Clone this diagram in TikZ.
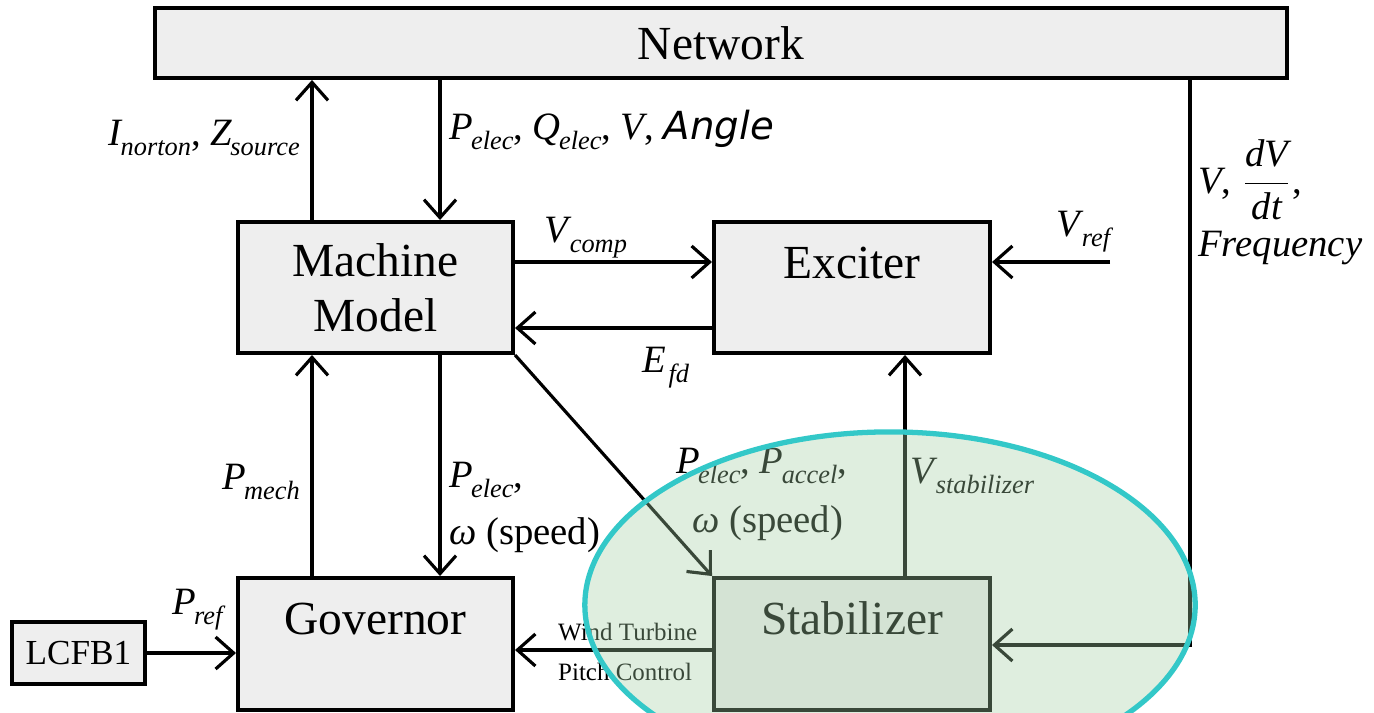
\documentclass[tikz,border=0pt]{standalone}
\usepackage{amsmath}
\usepackage{fontspec}
\setmainfont{Liberation Serif}
\newfontfamily\anglefont{DejaVu Sans}
\usepackage{xcolor}
\usetikzlibrary{arrows.meta}
\definecolor{boxfill}{RGB}{238,238,238}
\definecolor{ovalfill}{RGB}{164,207,164}
\definecolor{ovalline}{RGB}{51,200,200}
\newcommand{\sig}[2]{\textit{#1}\kern-0.5pt\raisebox{-0.55ex}{\fontsize{7.5}{8}\selectfont\textit{#2}}}

\begin{document}
\begin{tikzpicture}[x=0.01cm,y=-0.01cm,>={Straight Barb[length=1.8mm,width=3.2mm]}]%
  \tikzstyle{boxn}=[rectangle,draw,fill=boxfill,line width=1.1pt,inner sep=0,font=\fontsize{13.5}{15.6}\selectfont]
  \tikzstyle{topn}=[text height=0.35cm,text depth=0.54cm]
  \tikzstyle{lab}=[inner sep=1pt,font=\fontsize{11}{13}\selectfont]
  \tikzstyle{smalllab}=[inner sep=1pt,font=\fontsize{7.1}{9}\selectfont]
  \tikzstyle{line}=[line width=0.9pt]
  \useasboundingbox (0,0) rectangle (1374,712);
  % blocks
  \node(net)[boxn,minimum width=11.32cm,minimum height=0.7cm] at (721,43) {Network};
  \node(mach)[boxn,align=center,minimum width=2.75cm,minimum height=1.31cm] at (375.5,287.5) {Machine\\Model};
  \node(exc)[boxn,topn,minimum width=2.76cm,minimum height=1.31cm] at (852,287.5) {Exciter};
  \node(gov)[boxn,topn,minimum width=2.75cm,minimum height=1.32cm] at (375.5,644) {Governor};
  \node(stab)[boxn,topn,minimum width=2.76cm,minimum height=1.32cm] at (852,644) {Stabilizer};
  \node(lcfb)[boxn,minimum width=1.33cm,minimum height=0.62cm,font=\fontsize{10}{12}\selectfont] at (78.5,653) {LCFB1};
  % columns and rows of the connectors
  \coordinate(c1) at (312,0);
  \coordinate(c2) at (440,0);
  \coordinate(c3) at (905,0);
  \coordinate(c4) at (1190,0);
  \coordinate(r1) at (0,262);
  \coordinate(r2) at (0,328);
  \coordinate(r3) at (0,650);
  \coordinate(r4) at (0,645);
  \coordinate(vref) at (1110,262);
  % connectors
  \draw[line,->] (mach.north -| c1) -- (net.south -| c1);
  \draw[line,->] (net.south -| c2) -- (mach.north -| c2);
  \draw[line,->] (mach.east |- r1) -- (exc.west |- r1);
  \draw[line,->] (exc.west |- r2) -- (mach.east |- r2);
  \draw[line,->] (vref) -- (exc.east |- vref);
  \draw[line,->] (net.south -| c4) |- (stab.east |- r4);
  \draw[line,->] (gov.north -| c1) -- (mach.south -| c1);
  \draw[line,->] (mach.south -| c2) -- (gov.north -| c2);
  \draw[line,->] (mach.south east) -- (stab.north west);
  \draw[line,->] (stab.north -| c3) -- (exc.south -| c3);
  \draw[line,->] (stab.west |- r3) -- (gov.east |- r3);
  \draw[line,->] (lcfb.east) -- (gov.west |- lcfb.east);
  % labels
  \node(lnz)[lab,anchor=east] at (304,138) {\sig{I}{norton}, \sig{Z}{source}};
  \node(lpq)[lab,anchor=west] at (445,130) {\sig{P}{elec}, \sig{Q}{elec}, \textit{V}, {\anglefont\itshape Angle}};
  \node(lvc)[lab,anchor=west] at (540,238) {\sig{V}{comp}};
  \node(lefd)[lab,anchor=west] at (638,368) {\sig{E}{\,fd}};
  \node(lvref)[lab,anchor=west] at (1052,232) {\sig{V}{ref}};
  \node(lvdv)[lab,anchor=west] at (1194,180) {\textit{V}, $\dfrac{\textit{dV}}{\textit{dt}}$,};
  \node(lfreq)[lab,anchor=west] at (1194,248) {\textit{Frequency}};
  \node(lpm)[lab,anchor=east] at (304,482) {\sig{P}{mech}};
  \node(lpe)[lab,anchor=west] at (445,480) {\sig{P}{elec},};
  \node(lw1)[lab,anchor=west] at (445,535) {\textit{ω} (speed)};
  \node(lpa)[lab,anchor=west] at (672,466) {\sig{P}{elec}, \sig{P}{accel},};
  \node(lw2)[lab,anchor=west] at (688,523) {\textit{ω} (speed)};
  \node(lvs)[lab,anchor=west] at (906,476) {\sig{V}{stabilizer}};
  \node(lpr)[lab,anchor=west] at (168,610) {\sig{P}{ref}};
  \node(lwt)[smalllab,anchor=west] at (554,632) {Wind Turbine};
  \node(lpc)[smalllab,anchor=west] at (554,672) {Pitch Control};
  % highlight
  \fill[ovalfill,fill opacity=0.35] (890,605) ellipse [x radius=3.05cm,y radius=1.73cm];
  \draw[ovalline,line width=1.5pt] (890,605) ellipse [x radius=3.05cm,y radius=1.73cm];
\end{tikzpicture}
\end{document}
